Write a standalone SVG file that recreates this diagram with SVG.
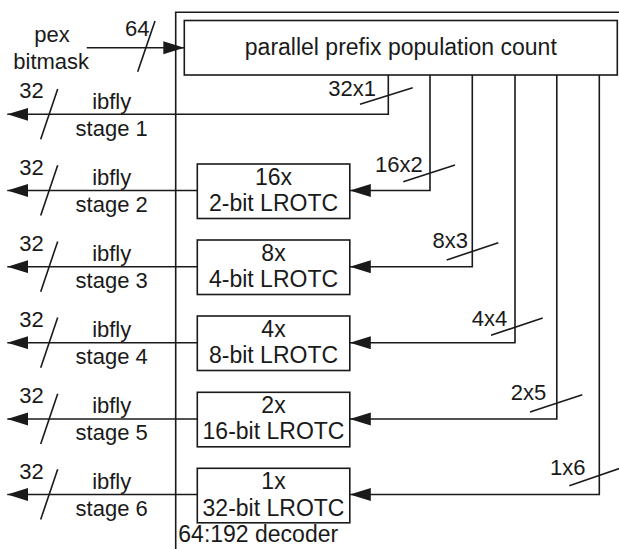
<svg xmlns="http://www.w3.org/2000/svg" width="619" height="549" viewBox="0 0 619 549">
  <style>
    .ln { fill: none; stroke: #1a1a1a; stroke-width: 1.6; }
    .box { fill: #ffffff; stroke: #1a1a1a; stroke-width: 1.6; }
    .arr { marker-end: url(#head); }
    text { font-family: "Liberation Sans", Arial, sans-serif; fill: #1a1a1a; }
    .s22 { font-size: 22px; }
    .s23 { font-size: 23px; }
    .mid { text-anchor: middle; }
  </style>
  <defs>
    <marker id="head" markerUnits="userSpaceOnUse" markerWidth="22" markerHeight="14" refX="21" refY="6.5" orient="auto">
      <path d="M0,0 L21,6.5 L0,13 z" fill="#1a1a1a"/>
    </marker>
  </defs>

  <!-- decoder outline (open to the right and bottom) -->
  <g id="decoder">
    <path class="ln" d="M619,12.3 H175.7 V549"/>
    <text class="s23" x="178.3" y="541.7">64:192 decoder</text>
  </g>

  <!-- input label -->
  <g id="input">
    <text class="s22 mid" x="52" y="41.7">pex</text>
    <text class="s22 mid" x="51.2" y="69.3">bitmask</text>
  </g>

  <g id="popcount">
    <rect class="box" x="184.3" y="20.5" width="433" height="54.5"/>
    <text class="s23 mid" x="400.8" y="55">parallel prefix population count</text>
  </g>

  <!-- LROTC blocks -->
  <g id="lrotc16">
    <rect class="box" x="197.3" y="164" width="152.5" height="54.5"/>
    <text class="s23 mid" x="273.5" y="184.5">16x</text>
    <text class="s23 mid" x="273.5" y="211">2-bit LROTC</text>
  </g>
  <g id="lrotc8">
    <rect class="box" x="197.3" y="240" width="152.5" height="54.5"/>
    <text class="s23 mid" x="273.5" y="260.5">8x</text>
    <text class="s23 mid" x="273.5" y="287">4-bit LROTC</text>
  </g>
  <g id="lrotc4">
    <rect class="box" x="197.3" y="316" width="152.5" height="54.5"/>
    <text class="s23 mid" x="273.5" y="336.5">4x</text>
    <text class="s23 mid" x="273.5" y="363">8-bit LROTC</text>
  </g>
  <g id="lrotc2">
    <rect class="box" x="197.3" y="392.3" width="152.5" height="54.5"/>
    <text class="s23 mid" x="273.5" y="412.8">2x</text>
    <text class="s23 mid" x="273.5" y="439.3">16-bit LROTC</text>
  </g>
  <g id="lrotc1">
    <rect class="box" x="197.3" y="468.3" width="152.5" height="54.5"/>
    <text class="s23 mid" x="273.5" y="488.8">1x</text>
    <text class="s23 mid" x="273.5" y="516">32-bit LROTC</text>
  </g>

  <!-- stage outputs -->
  <g id="stage1">
    <text class="s22" x="19.3" y="98.3">32</text>
    <text class="s22 mid" x="111.7" y="108.5">ibfly</text>
    <text class="s22 mid" x="111.7" y="135.5">stage 1</text>
  </g>
  <g id="stage2">
    <text class="s22" x="19.3" y="174.5">32</text>
    <text class="s22 mid" x="111.7" y="184.7">ibfly</text>
    <text class="s22 mid" x="111.7" y="211.7">stage 2</text>
  </g>
  <g id="stage3">
    <text class="s22" x="19.3" y="250.7">32</text>
    <text class="s22 mid" x="111.7" y="260.9">ibfly</text>
    <text class="s22 mid" x="111.7" y="287.9">stage 3</text>
  </g>
  <g id="stage4">
    <text class="s22" x="19.3" y="326.7">32</text>
    <text class="s22 mid" x="111.7" y="336.9">ibfly</text>
    <text class="s22 mid" x="111.7" y="363.9">stage 4</text>
  </g>
  <g id="stage5">
    <text class="s22" x="19.3" y="403">32</text>
    <text class="s22 mid" x="111.7" y="413.2">ibfly</text>
    <text class="s22 mid" x="111.7" y="440.2">stage 5</text>
  </g>
  <g id="stage6">
    <text class="s22" x="19.3" y="478.5">32</text>
    <text class="s22 mid" x="111.7" y="488.7">ibfly</text>
    <text class="s22 mid" x="111.7" y="515.7">stage 6</text>
  </g>

  <!-- connectors -->
  <g id="connectors">
    <path class="ln arr" d="M86.7,47.7 H184.3"/>
    <path class="ln arr" d="M388.3,75 V114.3 H7.3"/>
    <path class="ln arr" d="M430,75 V190.5 H349.8"/>
    <path class="ln arr" d="M472.3,75 V266.7 H349.8"/>
    <path class="ln arr" d="M515,75 V342.7 H349.8"/>
    <path class="ln arr" d="M556.8,75 V419 H349.8"/>
    <path class="ln arr" d="M599.3,75 V494.5 H349.8"/>
    <path class="ln arr" d="M197.3,190.5 H7.3"/>
    <path class="ln arr" d="M197.3,266.7 H7.3"/>
    <path class="ln arr" d="M197.3,342.7 H7.3"/>
    <path class="ln arr" d="M197.3,419 H7.3"/>
    <path class="ln arr" d="M197.3,494.5 H7.3"/>

    <!-- bus width ticks -->
    <path class="ln" d="M137.7,71.7 L155,21"/>
    <path class="ln" d="M40.7,139.3 L57.7,89"/>
    <path class="ln" d="M40.7,215.5 L57.7,165.2"/>
    <path class="ln" d="M40.7,291.7 L57.7,241.4"/>
    <path class="ln" d="M40.7,367.7 L57.7,317.4"/>
    <path class="ln" d="M40.7,444 L57.7,393.7"/>
    <path class="ln" d="M40.7,519.5 L57.7,469.2"/>

    <path class="ln" d="M360,104.3 L412.7,87.7"/>
    <path class="ln" d="M403.3,181.7 L455,165"/>
    <path class="ln" d="M446.7,260 L498.3,242.7"/>
    <path class="ln" d="M491,335.3 L542.7,318"/>
    <path class="ln" d="M530,412 L582.3,394.7"/>
    <path class="ln" d="M569.3,485.7 L625,466.5"/>

    <text class="s22" x="125" y="35.7">64</text>
    <text class="s22" x="328.3" y="96.3">32x1</text>
    <text class="s22" x="375" y="171.7">16x2</text>
    <text class="s22" x="432.5" y="248.3">8x3</text>
    <text class="s22" x="471.7" y="326.3">4x4</text>
    <text class="s22" x="510.7" y="400">2x5</text>
    <text class="s22" x="550" y="475">1x6</text>
  </g>
</svg>
